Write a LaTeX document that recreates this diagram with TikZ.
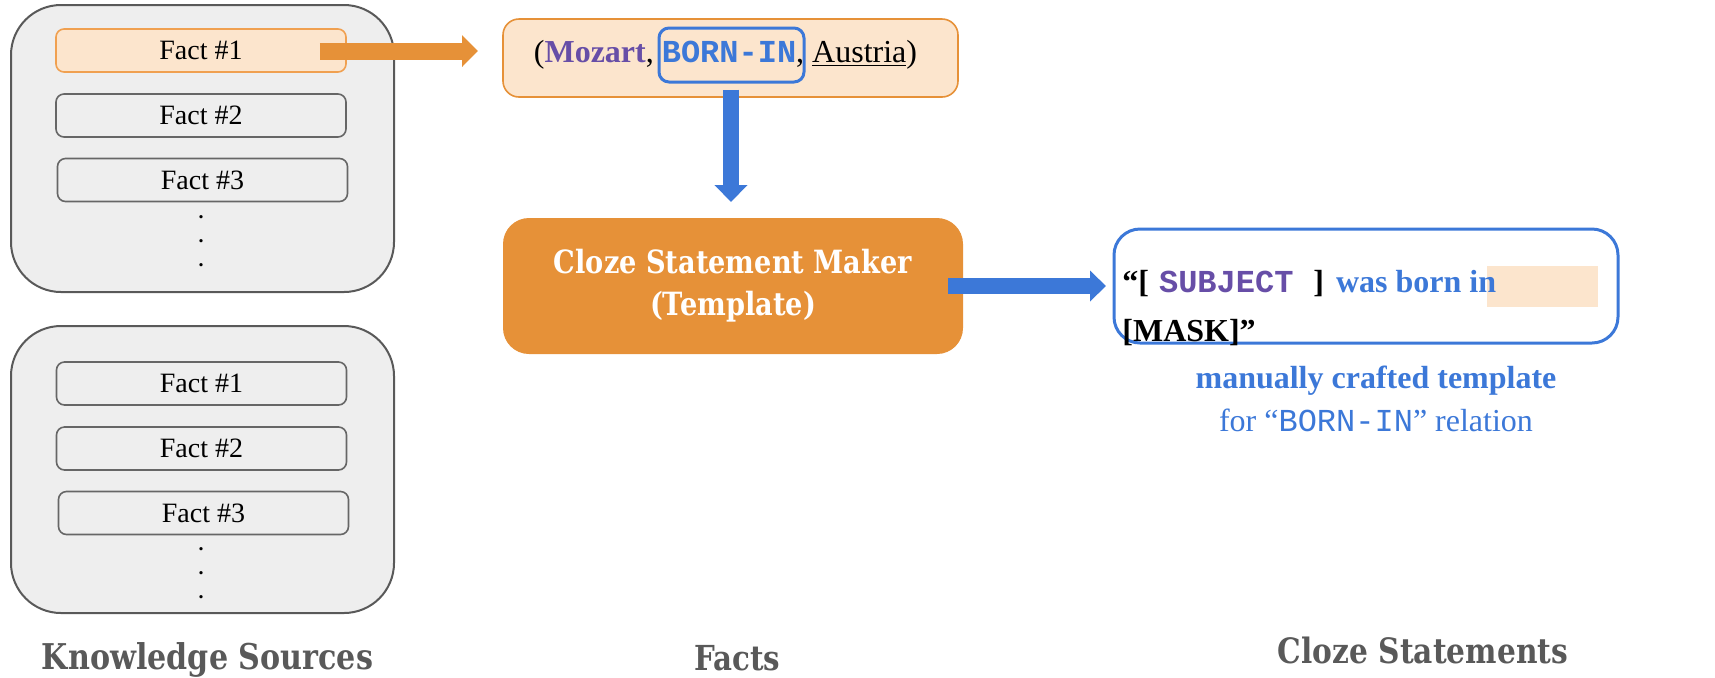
\documentclass[tikz,border=0pt]{standalone}
\usepackage{fontspec}
\setmainfont{Liberation Serif}
\setmonofont{Liberation Mono}
\newfontfamily\cam[FakeStretch=0.85]{DejaVu Serif}
\usetikzlibrary{arrows.meta,calc}
\definecolor{ksgray}{HTML}{EEEEEE}
\definecolor{ksline}{HTML}{595959}
\definecolor{factline}{HTML}{666666}
\definecolor{peach}{HTML}{FCE5CD}
\definecolor{orng}{HTML}{E69138}
\definecolor{orngl}{HTML}{F0A050}
\definecolor{blu}{HTML}{3C78D8}
\definecolor{purp}{HTML}{674EA7}
\definecolor{lab}{HTML}{595959}
\begin{document}
\begin{tikzpicture}[x=0.5pt,y=-0.5pt,
  ksbox/.style={draw=ksline, fill=ksgray, line width=1pt, rounded corners=25pt,
    minimum width=191.5pt, minimum height=143.5pt, inner sep=0pt},
  factbox/.style={draw=factline, fill=ksgray, line width=0.8pt, rounded corners=4pt,
    minimum width=145pt, minimum height=21.5pt, inner sep=0pt, font=\fontsize{14}{16}\selectfont},
  hlfact/.style={factbox, draw=orngl, fill=peach},
  dotmark/.style={anchor=base, inner sep=0pt, font=\bfseries\fontsize{10}{11}\selectfont},
  bluebox/.style={draw=blu, line width=1.5pt},
  steplabel/.style={anchor=base, inner sep=0pt, text=lab, font=\cam\bfseries},
  txt/.style={inner sep=0pt, font=\fontsize{16}{19}\selectfont},
  orangearrow/.style={draw=orng, line width=8.5pt, -{Triangle[width=15.5pt,length=8pt]}},
  bluearrow/.style={draw=blu, line width=8pt, -{Triangle[width=16pt,length=8.5pt]}}
]
\useasboundingbox (0,0) rectangle (1715,677);

% knowledge sources
\node[ksbox] (ks1) at (202.5,148.5) {};
\node[ksbox] (ks2) at (202.5,469.5) {};
\node[hlfact] (f1a) at (201,50.5) {Fact \#1};
\node[factbox] (f2a) at (201,115.5) {Fact \#2};
\node[factbox] (f3a) at (202.5,180) {Fact \#3};
\node[factbox] (f1b) at (201.5,383.5) {Fact \#1};
\node[factbox] (f2b) at (201.5,448.5) {Fact \#2};
\node[factbox] (f3b) at (203.5,513) {Fact \#3};
\foreach \yy [count=\i] in {218,242,266} \node[dotmark] (da\i) at (201,\yy) {.};
\foreach \yy [count=\i] in {550,574,598} \node[dotmark] (db\i) at (201,\yy) {.};

% fact
\node[draw=orng, fill=peach, line width=0.8pt, rounded corners=8pt,
  minimum width=227.5pt, minimum height=39pt, inner sep=0pt] (fact) at (730.5,58) {};
\node[txt, anchor=base] (facttext) at (725.5,62)
  {(\textbf{\color{purp}Mozart}, {\ttfamily\bfseries\color{blu}BORN-IN}, \underline{Austria})};
\node[bluebox, rounded corners=5pt, minimum width=72.5pt, minimum height=27pt, inner sep=0pt] (born) at (731.5,55) {};

% maker
\node[fill=orng, rounded corners=13pt, minimum width=230pt, minimum height=68pt, inner sep=0pt,
  text=white, align=center, font=\cam\bfseries\fontsize{16}{21}\selectfont] (maker) at (733,286)
  {Cloze Statement Maker\\(Template)};

% template
\fill[peach] (1487,266) rectangle (1598,307);
\node[bluebox, rounded corners=13pt, minimum width=252pt, minimum height=57pt, inner sep=0pt] (tmpl) at (1366,286) {};
\node[txt, anchor=base west] (line1) at (1122,292)
  {{\bfseries “[}\hspace{5pt}{\ttfamily\bfseries\color{purp}SUBJECT}\hspace{10pt}{\bfseries ]}\hspace{6pt}{\bfseries\color{blu}was born in}};
\node[txt, anchor=base west] (line2) at (1122,341) {\bfseries [MASK]”};
\node[txt, anchor=base, text=blu] (manual) at (1376,388) {\bfseries manually crafted template};
\node[txt, anchor=base, text=blu] (forrel) at (1376,431) {for “{\ttfamily BORN-IN}” relation};

% arrows
\coordinate (otip) at (478,51);
\coordinate (dtip) at (731,202);
\coordinate (rtip) at (1106,286);
\draw[orangearrow] ($(f1a.east)+(-27,0.5)$) -- (otip);
\draw[bluearrow] ($(born.south)+(-0.5,6)$) -- (dtip);
\draw[bluearrow, -{Triangle[width=15pt,length=8pt]}] ($(maker.east)+(-15,0)$) -- (rtip);

% labels
\node[steplabel] (lks) at (207.5,669) {\resizebox{165.5pt}{!}{Knowledge Sources}};
\node[steplabel] (lf) at (737,670) {\resizebox{43pt}{!}{Facts}};
\node[steplabel] (lcs) at (1423,663) {\resizebox{145pt}{!}{Cloze Statements}};
\end{tikzpicture}
\end{document}
